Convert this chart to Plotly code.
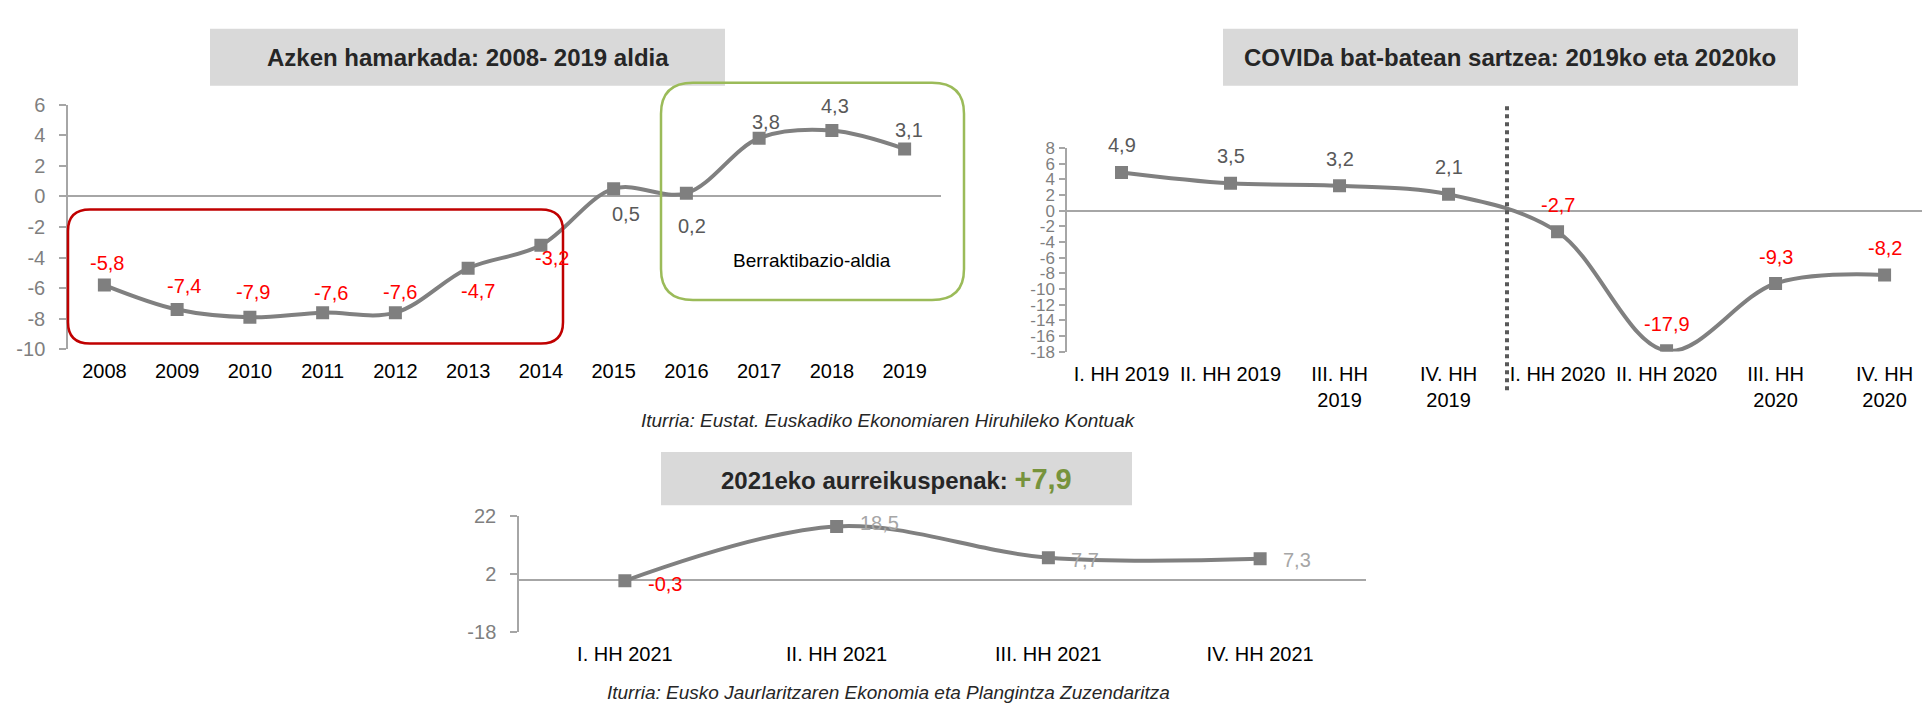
import plotly.graph_objects as go

# ---------------- data ----------------
years = ['2008', '2009', '2010', '2011', '2012', '2013', '2014', '2015', '2016', '2017', '2018', '2019']
growth_2008_2019 = [-5.8, -7.4, -7.9, -7.6, -7.6, -4.7, -3.2, 0.5, 0.2, 3.8, 4.3, 3.1]

quarters_2019_2020 = ['I. HH 2019', 'II. HH 2019', 'III. HH<br>2019', 'IV. HH<br>2019',
                      'I. HH 2020', 'II. HH 2020', 'III. HH<br>2020', 'IV. HH<br>2020']
growth_2019_2020 = [4.9, 3.5, 3.2, 2.1, -2.7, -17.9, -9.3, -8.2]

quarters_2021 = ['I. HH 2021', 'II. HH 2021', 'III. HH 2021', 'IV. HH 2021']
forecast_2021 = [-0.3, 18.5, 7.7, 7.3]

y1_ticks = [6, 4, 2, 0, -2, -4, -6, -8, -10]
y2_ticks = [8, 6, 4, 2, 0, -2, -4, -6, -8, -10, -12, -14, -16, -18]
y3_ticks = [22, 2, -18]

title_1 = 'Azken hamarkada: 2008- 2019 aldia'
title_2 = 'COVIDa bat-batean sartzea: 2019ko eta 2020ko'
title_3 = '2021eko aurreikuspenak: '
forecast_total = '+7,9'
source_1 = 'Iturria: Eustat. Euskadiko Ekonomiaren Hiruhileko Kontuak'
source_2 = 'Iturria: Eusko Jaurlaritzaren Ekonomia eta Plangintza Zuzendaritza'
box_label = 'Berraktibazio-aldia'

# label placement (pixel shifts, manual as in original)
lbl1_dx = [3, 7, 3, 8, 5, 10, 11, 12, 6, 7, 3, 4]
lbl1_dy = [22, 24, 25, 20, 21, -23, -13, -25, -33, 16, 25, 19]
lbl2_dx = [0] * 8
lbl2_dy = [27] * 8
lbl3_dx = [40, 43, 37, 37]
lbl3_dy = [-3, 3, -2, -1]

# ---------------- style ----------------
W, H = 1930, 705
FONT = 'Arial, Liberation Sans, sans-serif'
LINE_C = '#808080'
MARK_C = '#7f7f7f'
AXIS_C = '#a6a6a6'
TICK_C = '#7f7f7f'
NEG_C = '#ff0000'
POS_C = '#595959'


def px(x):
    return x / W


def py(y):
    return 1 - y / H


def fmt(v):
    return f'{v:.1f}'.replace('.', ',')


def rounded_path(x0, y0, x1, y1, r):
    rx, ry = r / W, r / H
    X0, X1 = px(x0), px(x1)
    Yt, Yb = py(y0), py(y1)
    return (f'M {X0 + rx},{Yt} L {X1 - rx},{Yt} Q {X1},{Yt} {X1},{Yt - ry} '
            f'L {X1},{Yb + ry} Q {X1},{Yb} {X1 - rx},{Yb} '
            f'L {X0 + rx},{Yb} Q {X0},{Yb} {X0},{Yb + ry} '
            f'L {X0},{Yt - ry} Q {X0},{Yt} {X0 + rx},{Yt} Z')


fig = go.Figure()

series = [
    (years, growth_2008_2019, 'x', 'y'),
    (quarters_2019_2020, growth_2019_2020, 'x2', 'y2'),
    (quarters_2021, forecast_2021, 'x3', 'y3'),
]
for cats, vals, xa, ya in series:
    fig.add_trace(go.Scatter(
        x=cats, y=vals, xaxis=xa, yaxis=ya, mode='lines+markers',
        line=dict(color=LINE_C, width=4, shape='spline', smoothing=1.0),
        marker=dict(symbol='square', size=13, color=MARK_C),
        hoverinfo='skip', showlegend=False))

annotations = []
# data labels (x given as category index on the category axis)
for cats, vals, xa, ya, dxs, dys, poscol in [
        (years, growth_2008_2019, 'x', 'y', lbl1_dx, lbl1_dy, POS_C),
        (quarters_2019_2020, growth_2019_2020, 'x2', 'y2', lbl2_dx, lbl2_dy, POS_C),
        (quarters_2021, forecast_2021, 'x3', 'y3', lbl3_dx, lbl3_dy, '#a6a6a6')]:
    for i, (v, dx, dy) in enumerate(zip(vals, dxs, dys)):
        annotations.append(dict(
            x=i, y=v, xref=xa, yref=ya, text=fmt(v), showarrow=False,
            xanchor='center', yanchor='middle', xshift=dx, yshift=dy,
            font=dict(family=FONT, size=20, color=NEG_C if v < 0 else poscol)))


def paper_text(x, y, text, size, color='#262626'):
    return dict(x=px(x), y=py(y), xref='paper', yref='paper', text=text, showarrow=False,
                xanchor='center', yanchor='middle',
                font=dict(family=FONT, size=size, color=color))


annotations += [
    paper_text(459.5, 39.5, f'<b>{title_1}</b>', 24),
    paper_text(1502, 39.5, f'<b>{title_2}</b>', 24),
    paper_text(888.5, 475,
               f"<b>{title_3}<span style='color:#77933c;font-size:29px'>{forecast_total}</span></b>", 24),
    paper_text(880, 414.7, f'<i>{source_1}</i>', 19),
    paper_text(880, 695, f'<i>{source_2}</i>', 19),
    paper_text(804, 249, box_label, 19, '#000000'),
]

shapes = [
    dict(type='rect', xref='paper', yref='paper', x0=px(202), x1=px(717), y0=py(69), y1=py(10),
         fillcolor='#d9d9d9', line=dict(width=0), layer='below'),
    dict(type='rect', xref='paper', yref='paper', x0=px(1215), x1=px(1790), y0=py(69), y1=py(10),
         fillcolor='#d9d9d9', line=dict(width=0), layer='below'),
    dict(type='rect', xref='paper', yref='paper', x0=px(653), x1=px(1124), y0=py(502), y1=py(447),
         fillcolor='#d9d9d9', line=dict(width=0), layer='below'),
    dict(type='path', xref='paper', yref='paper', path=rounded_path(60, 196.7, 555, 335, 22),
         line=dict(color='#c00000', width=2.5)),
    dict(type='path', xref='paper', yref='paper', path=rounded_path(653, 65.7, 956, 290, 32),
         line=dict(color='#9bbb59', width=2.5)),
    dict(type='line', xref='paper', yref='paper', x0=px(1499), x1=px(1499), y0=py(90), y1=py(387),
         line=dict(color='#595959', width=4, dash='dot')),
]

xcommon = dict(type='category', showgrid=False, zeroline=False, showline=False, ticks='',
               tickfont=dict(family=FONT, size=20, color='#000000'), ticklabelstandoff=8,
               fixedrange=True)
ycommon = dict(showgrid=False, zeroline=True, zerolinecolor=AXIS_C, zerolinewidth=2,
               showline=True, linecolor=AXIS_C, linewidth=1.5, ticks='outside',
               tickcolor=AXIS_C, tickwidth=1.5, fixedrange=True)

fig.update_layout(
    width=W, height=H, margin=dict(l=0, r=0, t=0, b=0),
    paper_bgcolor='white', plot_bgcolor='rgba(0,0,0,0)',
    font=dict(family=FONT),
    xaxis=dict(xcommon, domain=[px(60), px(933)], range=[-0.5, 11.5], anchor='y'),
    yaxis=dict(ycommon, domain=[py(341), py(88.3)], range=[-10, 6], anchor='x',
               tickmode='array', tickvals=y1_ticks, ticktext=[str(t) for t in y1_ticks],
               ticklen=7, ticklabelstandoff=10,
               tickfont=dict(family=FONT, size=20, color=TICK_C)),
    xaxis2=dict(xcommon, domain=[px(1059), 1.0], range=[-0.5, 7.49], anchor='y2'),
    yaxis2=dict(ycommon, domain=[py(343.3), py(133.3)], range=[-18, 8], anchor='x2',
                tickmode='array', tickvals=y2_ticks, ticktext=[str(t) for t in y2_ticks],
                ticklen=6, ticklabelstandoff=1,
                tickfont=dict(family=FONT, size=17, color=TICK_C)),
    xaxis3=dict(xcommon, domain=[px(511), px(1358)], range=[-0.5, 3.5], anchor='y3'),
    yaxis3=dict(ycommon, domain=[py(632.7), py(513.3)], range=[-18, 22], anchor='x3',
                tickmode='array', tickvals=y3_ticks, ticktext=[str(t) for t in y3_ticks],
                ticklen=7, ticklabelstandoff=10,
                tickfont=dict(family=FONT, size=20, color=TICK_C)),
    annotations=annotations,
    shapes=shapes,
)

fig.write_html('out.html')
